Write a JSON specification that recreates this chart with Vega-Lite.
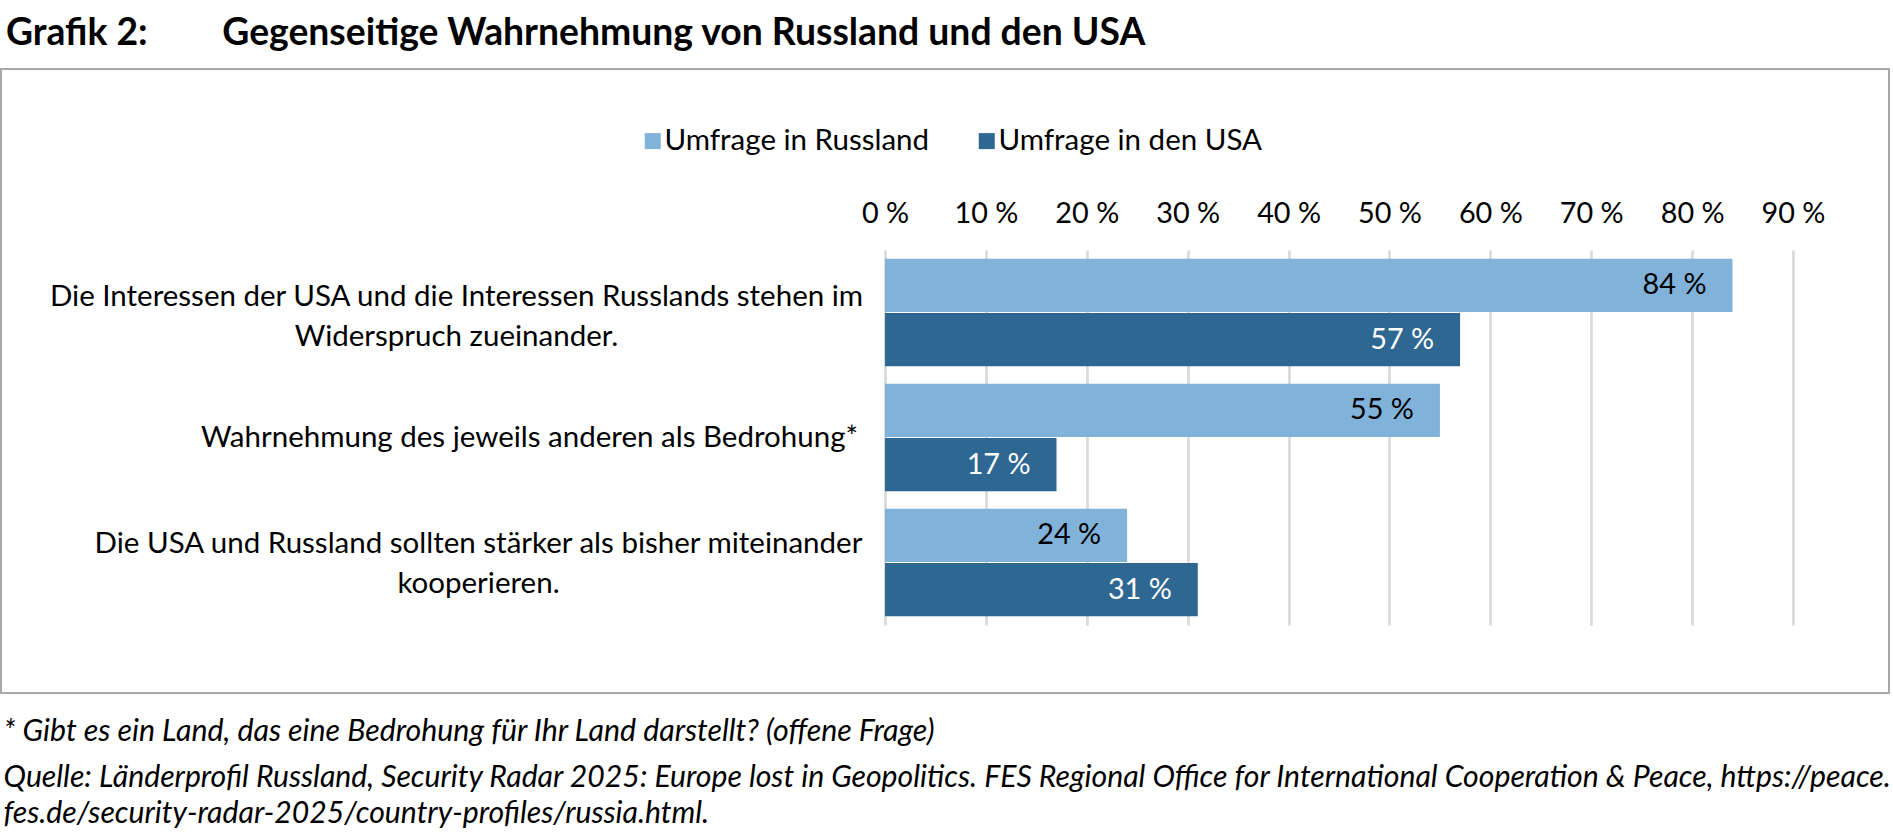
{
  "$schema": "https://vega.github.io/schema/vega-lite/v6.json",
  "width": 1888,
  "height": 624,
  "autosize": {"type": "none"},
  "padding": {"left": 1, "top": 69, "right": 4, "bottom": 147},
  "background": "white",
  "config": {
    "font": "Lato",
    "view": {"stroke": "#a9a9a9", "strokeWidth": 2}
  },
  "title": {
    "text": "Grafik 2:\u2003\u2003\u2002Gegenseitige Wahrnehmung von Russland und den USA",
    "anchor": "start",
    "frame": "group",
    "orient": "top",
    "offset": 23,
    "baseline": "alphabetic",
    "dx": 5,
    "dy": 36,
    "font": "Lato",
    "fontSize": 37.3,
    "fontWeight": "bold",
    "color": "black"
  },
  "data": {
    "values": [
      {"aussage": "Die Interessen der USA und die Interessen Russlands stehen im\nWiderspruch zueinander.", "umfrage": "Umfrage in Russland", "wert": 84, "label": "84 %"},
      {"aussage": "Die Interessen der USA und die Interessen Russlands stehen im\nWiderspruch zueinander.", "umfrage": "Umfrage in den USA", "wert": 57, "label": "57 %"},
      {"aussage": "Wahrnehmung des jeweils anderen als Bedrohung*", "umfrage": "Umfrage in Russland", "wert": 55, "label": "55 %"},
      {"aussage": "Wahrnehmung des jeweils anderen als Bedrohung*", "umfrage": "Umfrage in den USA", "wert": 17, "label": "17 %"},
      {"aussage": "Die USA und Russland sollten stärker als bisher miteinander\nkooperieren.", "umfrage": "Umfrage in Russland", "wert": 24, "label": "24 %"},
      {"aussage": "Die USA und Russland sollten stärker als bisher miteinander\nkooperieren.", "umfrage": "Umfrage in den USA", "wert": 31, "label": "31 %"}
    ]
  },
  "encoding": {
    "y": {
      "field": "aussage",
      "type": "nominal",
      "sort": null,
      "scale": {"range": [181, 556], "paddingInner": 0.14, "paddingOuter": 0.07},
      "axis": {
        "orient": "left",
        "offset": -884,
        "domain": false,
        "ticks": false,
        "tickSize": 0,
        "grid": false,
        "zindex": 0,
        "labelExpr": "split(datum.value, '\\n')",
        "labelAlign": "center",
        "labelBaseline": "middle",
        "labelLineHeight": 40,
        "labelFont": "Lato",
        "labelFontSize": 29.5,
        "labelColor": "black",
        "labelLimit": 0,
        "labelPadding": {
          "condition": [
            {"test": "indexof(datum.value, 'Interessen') >= 0", "value": 429},
            {"test": "indexof(datum.value, 'kooperieren') >= 0", "value": 407}
          ],
          "value": 356
        },
        "labelOffset": {
          "condition": [
            {"test": "indexof(datum.value, 'Interessen') >= 0", "value": -16},
            {"test": "indexof(datum.value, 'kooperieren') >= 0", "value": -19}
          ],
          "value": 0
        },
        "title": "* Gibt es ein Land, das eine Bedrohung für Ihr Land darstellt? (offene Frage)",
        "titleAngle": 0,
        "titleX": -882,
        "titleY": 671,
        "titleAlign": "left",
        "titleAnchor": "start",
        "titleBaseline": "alphabetic",
        "titleFont": "Lato",
        "titleFontSize": 30.3,
        "titleFontStyle": "italic",
        "titleFontWeight": "normal",
        "titleColor": "black",
        "titleLimit": 0
      }
    },
    "yOffset": {"field": "umfrage", "type": "nominal", "sort": null, "scale": {"paddingInner": 0.02}},
    "x": {
      "field": "wert",
      "type": "quantitative",
      "scale": {"domain": [0, 90], "range": [884, 1792], "nice": false, "zero": true},
      "axis": {
        "orient": "top",
        "offset": -556,
        "values": [0, 10, 20, 30, 40, 50, 60, 70, 80, 90],
        "labelExpr": "datum.value + ' %'",
        "domain": false,
        "grid": false,
        "ticks": true,
        "tickSize": 375,
        "tickColor": "#d9d9d9",
        "tickWidth": 2.7,
        "zindex": 0,
        "labelFont": "Lato",
        "labelFontSize": 28.8,
        "labelColor": "black",
        "labelPadding": 22,
        "labelFlush": false,
        "labelOverlap": false,
        "title": ["Quelle: Länderprofil Russland, Security Radar 2025: Europe lost in Geopolitics. FES Regional Office for International Cooperation & Peace, https://peace.", "fes.de/security-radar-2025/country-profiles/russia.html."],
        "titleX": 2,
        "titleY": 161,
        "titleAngle": 0,
        "titleAlign": "left",
        "titleAnchor": "start",
        "titleBaseline": "alphabetic",
        "titleFont": "Lato",
        "titleFontSize": 30.2,
        "titleFontStyle": "italic",
        "titleFontWeight": "normal",
        "titleColor": "black",
        "titleLineHeight": 36,
        "titleLimit": 0
      }
    }
  },
  "layer": [
    {
      "mark": {"type": "bar"},
      "encoding": {
        "color": {
          "field": "umfrage",
          "type": "nominal",
          "sort": null,
          "scale": {"domain": ["Umfrage in Russland", "Umfrage in den USA"], "range": ["#80b2da", "#2d6792"]},
          "legend": {
            "orient": "none",
            "legendX": 637,
            "legendY": 57,
            "direction": "horizontal",
            "title": null,
            "symbolType": "square",
            "symbolSize": 256,
            "symbolStrokeWidth": 0,
            "symbolOpacity": 1,
            "labelFont": "Lato",
            "labelFontSize": 29.5,
            "labelColor": "black",
            "labelLimit": 0,
            "labelOffset": -3,
            "columnPadding": 42
          }
        }
      }
    },
    {
      "mark": {"type": "text", "align": "right", "baseline": "middle", "dx": -26, "font": "Lato", "fontSize": 28.8},
      "encoding": {
        "text": {"field": "label"},
        "color": {"condition": {"test": "datum.umfrage === 'Umfrage in den USA'", "value": "white"}, "value": "black"}
      }
    }
  ]
}
